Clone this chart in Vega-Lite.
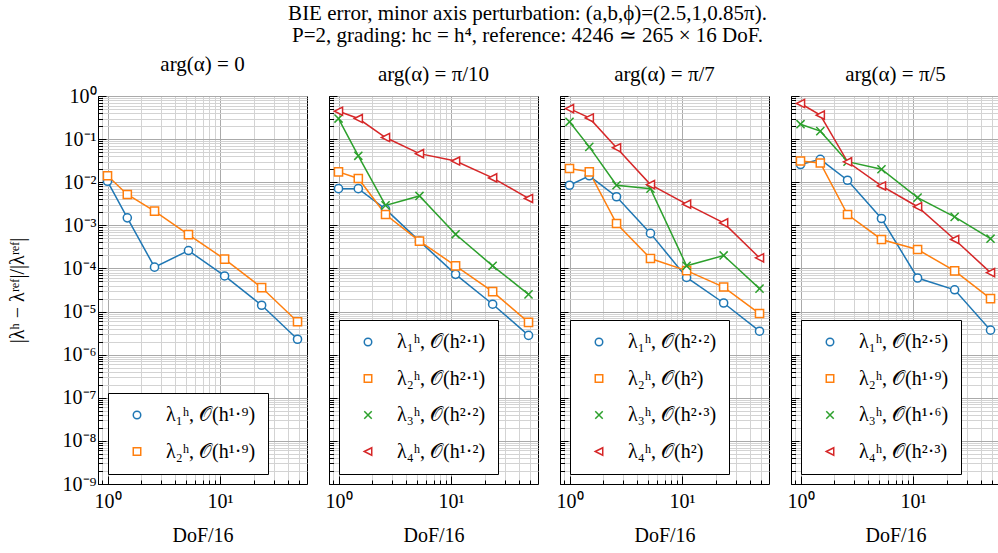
{
  "$schema": "https://vega.github.io/schema/vega-lite/v6.json",
  "background": "white",
  "padding": {"left": 6, "top": 2, "right": 0, "bottom": 0},
  "title": {
    "text": ["BIE error, minor axis perturbation: (a,b,ϕ)=(2.5,1,0.85π).", "P=2, grading: hc = h⁴, reference: 4246 ≃ 265 × 16 DoF."],
    "anchor": "middle", "fontSize": 21, "lineHeight": 22, "offset": 8, "dx": 24
  },
  "datasets": {
    "p1": [
      {"s": "λ₁ʰ, 𝒪(h¹·⁹)", "x": 1, "y": 0.0105}, {"s": "λ₁ʰ, 𝒪(h¹·⁹)", "x": 1.5, "y": 0.00149}, {"s": "λ₁ʰ, 𝒪(h¹·⁹)", "x": 2.62, "y": 0.000107}, {"s": "λ₁ʰ, 𝒪(h¹·⁹)", "x": 5.25, "y": 0.00026}, {"s": "λ₁ʰ, 𝒪(h¹·⁹)", "x": 11, "y": 6.7e-5}, {"s": "λ₁ʰ, 𝒪(h¹·⁹)", "x": 23.5, "y": 1.4e-5}, {"s": "λ₁ʰ, 𝒪(h¹·⁹)", "x": 49, "y": 2.28e-6},
      {"s": "λ₂ʰ, 𝒪(h¹·⁹)", "x": 1, "y": 0.0141}, {"s": "λ₂ʰ, 𝒪(h¹·⁹)", "x": 1.5, "y": 0.0052}, {"s": "λ₂ʰ, 𝒪(h¹·⁹)", "x": 2.62, "y": 0.00213}, {"s": "λ₂ʰ, 𝒪(h¹·⁹)", "x": 5.25, "y": 0.00061}, {"s": "λ₂ʰ, 𝒪(h¹·⁹)", "x": 11, "y": 0.000164}, {"s": "λ₂ʰ, 𝒪(h¹·⁹)", "x": 23.5, "y": 3.6e-5}, {"s": "λ₂ʰ, 𝒪(h¹·⁹)", "x": 49, "y": 5.8e-6}
    ],
    "p2": [
      {"s": "λ₁ʰ, 𝒪(h²·¹)", "x": 1, "y": 0.0071}, {"s": "λ₁ʰ, 𝒪(h²·¹)", "x": 1.5, "y": 0.0071}, {"s": "λ₁ʰ, 𝒪(h²·¹)", "x": 2.62, "y": 0.00237}, {"s": "λ₁ʰ, 𝒪(h²·¹)", "x": 5.25, "y": 0.00043}, {"s": "λ₁ʰ, 𝒪(h²·¹)", "x": 11, "y": 7.3e-5}, {"s": "λ₁ʰ, 𝒪(h²·¹)", "x": 23.5, "y": 1.48e-5}, {"s": "λ₁ʰ, 𝒪(h²·¹)", "x": 49, "y": 2.8e-6},
      {"s": "λ₂ʰ, 𝒪(h²·¹)", "x": 1, "y": 0.0174}, {"s": "λ₂ʰ, 𝒪(h²·¹)", "x": 1.5, "y": 0.0122}, {"s": "λ₂ʰ, 𝒪(h²·¹)", "x": 2.62, "y": 0.00178}, {"s": "λ₂ʰ, 𝒪(h²·¹)", "x": 5.25, "y": 0.00043}, {"s": "λ₂ʰ, 𝒪(h²·¹)", "x": 11, "y": 0.000115}, {"s": "λ₂ʰ, 𝒪(h²·¹)", "x": 23.5, "y": 2.9e-5}, {"s": "λ₂ʰ, 𝒪(h²·¹)", "x": 49, "y": 5.6e-6},
      {"s": "λ₃ʰ, 𝒪(h²·²)", "x": 1, "y": 0.30}, {"s": "λ₃ʰ, 𝒪(h²·²)", "x": 1.5, "y": 0.041}, {"s": "λ₃ʰ, 𝒪(h²·²)", "x": 2.62, "y": 0.0029}, {"s": "λ₃ʰ, 𝒪(h²·²)", "x": 5.25, "y": 0.0048}, {"s": "λ₃ʰ, 𝒪(h²·²)", "x": 11, "y": 0.00062}, {"s": "λ₃ʰ, 𝒪(h²·²)", "x": 23.5, "y": 0.000115}, {"s": "λ₃ʰ, 𝒪(h²·²)", "x": 49, "y": 2.5e-5},
      {"s": "λ₄ʰ, 𝒪(h¹·²)", "x": 1, "y": 0.444}, {"s": "λ₄ʰ, 𝒪(h¹·²)", "x": 1.5, "y": 0.30}, {"s": "λ₄ʰ, 𝒪(h¹·²)", "x": 2.62, "y": 0.109}, {"s": "λ₄ʰ, 𝒪(h¹·²)", "x": 5.25, "y": 0.046}, {"s": "λ₄ʰ, 𝒪(h¹·²)", "x": 11, "y": 0.031}, {"s": "λ₄ʰ, 𝒪(h¹·²)", "x": 23.5, "y": 0.0126}, {"s": "λ₄ʰ, 𝒪(h¹·²)", "x": 49, "y": 0.0042}
    ],
    "p3": [
      {"s": "λ₁ʰ, 𝒪(h²·²)", "x": 1, "y": 0.0085}, {"s": "λ₁ʰ, 𝒪(h²·²)", "x": 1.5, "y": 0.0141}, {"s": "λ₁ʰ, 𝒪(h²·²)", "x": 2.62, "y": 0.0046}, {"s": "λ₁ʰ, 𝒪(h²·²)", "x": 5.25, "y": 0.00065}, {"s": "λ₁ʰ, 𝒪(h²·²)", "x": 11, "y": 6.2e-5}, {"s": "λ₁ʰ, 𝒪(h²·²)", "x": 23.5, "y": 1.58e-5}, {"s": "λ₁ʰ, 𝒪(h²·²)", "x": 49, "y": 3.5e-6},
      {"s": "λ₂ʰ, 𝒪(h²)", "x": 1, "y": 0.0208}, {"s": "λ₂ʰ, 𝒪(h²)", "x": 1.5, "y": 0.0174}, {"s": "λ₂ʰ, 𝒪(h²)", "x": 2.62, "y": 0.0011}, {"s": "λ₂ʰ, 𝒪(h²)", "x": 5.25, "y": 0.00017}, {"s": "λ₂ʰ, 𝒪(h²)", "x": 11, "y": 8.9e-5}, {"s": "λ₂ʰ, 𝒪(h²)", "x": 23.5, "y": 3.7e-5}, {"s": "λ₂ʰ, 𝒪(h²)", "x": 49, "y": 9.0e-6},
      {"s": "λ₃ʰ, 𝒪(h²·³)", "x": 1, "y": 0.252}, {"s": "λ₃ʰ, 𝒪(h²·³)", "x": 1.5, "y": 0.066}, {"s": "λ₃ʰ, 𝒪(h²·³)", "x": 2.62, "y": 0.0085}, {"s": "λ₃ʰ, 𝒪(h²·³)", "x": 5.25, "y": 0.0071}, {"s": "λ₃ʰ, 𝒪(h²·³)", "x": 11, "y": 0.000115}, {"s": "λ₃ʰ, 𝒪(h²·³)", "x": 23.5, "y": 0.0002}, {"s": "λ₃ʰ, 𝒪(h²·³)", "x": 49, "y": 3.4e-5},
      {"s": "λ₄ʰ, 𝒪(h²)", "x": 1, "y": 0.51}, {"s": "λ₄ʰ, 𝒪(h²)", "x": 1.5, "y": 0.31}, {"s": "λ₄ʰ, 𝒪(h²)", "x": 2.62, "y": 0.063}, {"s": "λ₄ʰ, 𝒪(h²)", "x": 5.25, "y": 0.0088}, {"s": "λ₄ʰ, 𝒪(h²)", "x": 11, "y": 0.0031}, {"s": "λ₄ʰ, 𝒪(h²)", "x": 23.5, "y": 0.00114}, {"s": "λ₄ʰ, 𝒪(h²)", "x": 49, "y": 0.000176}
    ],
    "p4": [
      {"s": "λ₁ʰ, 𝒪(h²·⁵)", "x": 1, "y": 0.0258}, {"s": "λ₁ʰ, 𝒪(h²·⁵)", "x": 1.5, "y": 0.034}, {"s": "λ₁ʰ, 𝒪(h²·⁵)", "x": 2.62, "y": 0.0111}, {"s": "λ₁ʰ, 𝒪(h²·⁵)", "x": 5.25, "y": 0.00144}, {"s": "λ₁ʰ, 𝒪(h²·⁵)", "x": 11, "y": 6.0e-5}, {"s": "λ₁ʰ, 𝒪(h²·⁵)", "x": 23.5, "y": 3.2e-5}, {"s": "λ₁ʰ, 𝒪(h²·⁵)", "x": 49, "y": 3.7e-6},
      {"s": "λ₂ʰ, 𝒪(h¹·⁹)", "x": 1, "y": 0.031}, {"s": "λ₂ʰ, 𝒪(h¹·⁹)", "x": 1.5, "y": 0.028}, {"s": "λ₂ʰ, 𝒪(h¹·⁹)", "x": 2.62, "y": 0.00178}, {"s": "λ₂ʰ, 𝒪(h¹·⁹)", "x": 5.25, "y": 0.00047}, {"s": "λ₂ʰ, 𝒪(h¹·⁹)", "x": 11, "y": 0.000275}, {"s": "λ₂ʰ, 𝒪(h¹·⁹)", "x": 23.5, "y": 8.8e-5}, {"s": "λ₂ʰ, 𝒪(h¹·⁹)", "x": 49, "y": 2.0e-5},
      {"s": "λ₃ʰ, 𝒪(h¹·⁶)", "x": 1, "y": 0.222}, {"s": "λ₃ʰ, 𝒪(h¹·⁶)", "x": 1.5, "y": 0.153}, {"s": "λ₃ʰ, 𝒪(h¹·⁶)", "x": 2.62, "y": 0.030}, {"s": "λ₃ʰ, 𝒪(h¹·⁶)", "x": 5.25, "y": 0.020}, {"s": "λ₃ʰ, 𝒪(h¹·⁶)", "x": 11, "y": 0.0044}, {"s": "λ₃ʰ, 𝒪(h¹·⁶)", "x": 23.5, "y": 0.00157}, {"s": "λ₃ʰ, 𝒪(h¹·⁶)", "x": 49, "y": 0.00049},
      {"s": "λ₄ʰ, 𝒪(h²·³)", "x": 1, "y": 0.67}, {"s": "λ₄ʰ, 𝒪(h²·³)", "x": 1.5, "y": 0.36}, {"s": "λ₄ʰ, 𝒪(h²·³)", "x": 2.62, "y": 0.0297}, {"s": "λ₄ʰ, 𝒪(h²·³)", "x": 5.25, "y": 0.0082}, {"s": "λ₄ʰ, 𝒪(h²·³)", "x": 11, "y": 0.0027}, {"s": "λ₄ʰ, 𝒪(h²·³)", "x": 23.5, "y": 0.00047}, {"s": "λ₄ʰ, 𝒪(h²·³)", "x": 49, "y": 8.0e-5}
    ]
  },
  "spacing": 22,
  "bounds": "flush",
  "hconcat": [
    {
      "width": 209, "height": 388,
      "title": "arg(α) = 0",
      "data": {"name": "p1"},
      "encoding": {
        "x": {"field": "x", "type": "quantitative", "scale": {"type": "log", "domain": [0.823, 59.5], "nice": false},
          "axis": {"title": "DoF/16", "values": [0.9,1,2,3,4,5,6,7,8,9,10,20,30,40,50], "labelExpr": "datum.value == 1 ? '10⁰' : datum.value == 10 ? '10¹' : ''",
            "tickSize": {"condition": {"test": "datum.value == 1 || datum.value == 10", "value": -8}, "value": -4},
            "gridColor": {"condition": {"test": "datum.value == 1 || datum.value == 10", "value": "#aaaaaa"}, "value": "#d3d3d3"}}},
        "y": {"field": "y", "type": "quantitative", "scale": {"type": "log", "domain": [1e-9, 1], "nice": false},
          "axis": {"title": "|λʰ − λʳᵉᶠ|/|λʳᵉᶠ|",
            "values": [1e-9,2e-9,3e-9,4e-9,5e-9,6e-9,7e-9,8e-9,9e-9,1e-8,2e-8,3e-8,4e-8,5e-8,6e-8,7e-8,8e-8,9e-8,1e-7,2e-7,3e-7,4e-7,5e-7,6e-7,7e-7,8e-7,9e-7,1e-6,2e-6,3e-6,4e-6,5e-6,6e-6,7e-6,8e-6,9e-6,1e-5,2e-5,3e-5,4e-5,5e-5,6e-5,7e-5,8e-5,9e-5,1e-4,2e-4,3e-4,4e-4,5e-4,6e-4,7e-4,8e-4,9e-4,0.001,0.002,0.003,0.004,0.005,0.006,0.007,0.008,0.009,0.01,0.02,0.03,0.04,0.05,0.06,0.07,0.08,0.09,0.1,0.2,0.3,0.4,0.5,0.6,0.7,0.8,0.9,1],
            "labelExpr": "abs(log(datum.value)/LN10 - round(log(datum.value)/LN10)) < 0.01 ? ['10⁰','10⁻¹','10⁻²','10⁻³','10⁻⁴','10⁻⁵','10⁻⁶','10⁻⁷','10⁻⁸','10⁻⁹'][-round(log(datum.value)/LN10)] : ''",
            "tickSize": {"condition": {"test": "abs(log(datum.value)/LN10 - round(log(datum.value)/LN10)) < 0.01", "value": -8}, "value": -4.5},
            "gridColor": {"condition": {"test": "abs(log(datum.value)/LN10 - round(log(datum.value)/LN10)) < 0.01", "value": "#aaaaaa"}, "value": "#d3d3d3"}}},
        "stroke": {"field": "s", "type": "nominal",
          "scale": {"domain": ["λ₁ʰ, 𝒪(h¹·⁹)", "λ₂ʰ, 𝒪(h¹·⁹)"], "range": ["#1f77b4", "#ff7f0e"]},
          "legend": {"title": null, "orient": "bottom-left", "offset": 10}}
      },
      "layer": [
        {"mark": {"type": "line", "strokeWidth": 1.5}},
        {"mark": {"type": "point", "filled": true, "fill": "white", "opacity": 1, "strokeWidth": 1.5, "size": 66},
         "encoding": {"shape": {"field": "s", "type": "nominal", "legend": null,
           "scale": {"domain": ["λ₁ʰ, 𝒪(h¹·⁹)", "λ₂ʰ, 𝒪(h¹·⁹)"], "range": ["M1,0A1,1,0,1,1,-1,0A1,1,0,1,1,1,0Z", "M-1,-1H1V1H-1Z"]}}}}
      ]
    },
    {
      "width": 209, "height": 388,
      "title": "arg(α) = π/10",
      "data": {"name": "p2"},
      "encoding": {
        "x": {"field": "x", "type": "quantitative", "scale": {"type": "log", "domain": [0.823, 59.5], "nice": false},
          "axis": {"title": "DoF/16", "values": [0.9,1,2,3,4,5,6,7,8,9,10,20,30,40,50], "labelExpr": "datum.value == 1 ? '10⁰' : datum.value == 10 ? '10¹' : ''",
            "tickSize": {"condition": {"test": "datum.value == 1 || datum.value == 10", "value": -8}, "value": -4},
            "gridColor": {"condition": {"test": "datum.value == 1 || datum.value == 10", "value": "#aaaaaa"}, "value": "#d3d3d3"}}},
        "y": {"field": "y", "type": "quantitative", "scale": {"type": "log", "domain": [1e-9, 1], "nice": false},
          "axis": {"title": null, "labels": false,
            "values": [1e-9,2e-9,3e-9,4e-9,5e-9,6e-9,7e-9,8e-9,9e-9,1e-8,2e-8,3e-8,4e-8,5e-8,6e-8,7e-8,8e-8,9e-8,1e-7,2e-7,3e-7,4e-7,5e-7,6e-7,7e-7,8e-7,9e-7,1e-6,2e-6,3e-6,4e-6,5e-6,6e-6,7e-6,8e-6,9e-6,1e-5,2e-5,3e-5,4e-5,5e-5,6e-5,7e-5,8e-5,9e-5,1e-4,2e-4,3e-4,4e-4,5e-4,6e-4,7e-4,8e-4,9e-4,0.001,0.002,0.003,0.004,0.005,0.006,0.007,0.008,0.009,0.01,0.02,0.03,0.04,0.05,0.06,0.07,0.08,0.09,0.1,0.2,0.3,0.4,0.5,0.6,0.7,0.8,0.9,1],
            "tickSize": {"condition": {"test": "abs(log(datum.value)/LN10 - round(log(datum.value)/LN10)) < 0.01", "value": -8}, "value": -4.5},
            "gridColor": {"condition": {"test": "abs(log(datum.value)/LN10 - round(log(datum.value)/LN10)) < 0.01", "value": "#aaaaaa"}, "value": "#d3d3d3"}}},
        "stroke": {"field": "s", "type": "nominal",
          "scale": {"domain": ["λ₁ʰ, 𝒪(h²·¹)", "λ₂ʰ, 𝒪(h²·¹)", "λ₃ʰ, 𝒪(h²·²)", "λ₄ʰ, 𝒪(h¹·²)"], "range": ["#1f77b4", "#ff7f0e", "#2ca02c", "#d62728"]},
          "legend": {"title": null, "orient": "bottom-left", "offset": 10}}
      },
      "layer": [
        {"mark": {"type": "line", "strokeWidth": 1.5}},
        {"mark": {"type": "point", "filled": true, "fill": "white", "opacity": 1, "strokeWidth": 1.5, "size": 66},
         "encoding": {"shape": {"field": "s", "type": "nominal", "legend": null,
           "scale": {"domain": ["λ₁ʰ, 𝒪(h²·¹)", "λ₂ʰ, 𝒪(h²·¹)", "λ₃ʰ, 𝒪(h²·²)", "λ₄ʰ, 𝒪(h¹·²)"], "range": ["M1,0A1,1,0,1,1,-1,0A1,1,0,1,1,1,0Z", "M-1,-1H1V1H-1Z", "M-1,-1L1,1M-1,1L1,-1", "M-1,0L1,-1L1,1Z"]}}}}
      ]
    },
    {
      "width": 209, "height": 388,
      "title": "arg(α) = π/7",
      "data": {"name": "p3"},
      "encoding": {
        "x": {"field": "x", "type": "quantitative", "scale": {"type": "log", "domain": [0.823, 59.5], "nice": false},
          "axis": {"title": "DoF/16", "values": [0.9,1,2,3,4,5,6,7,8,9,10,20,30,40,50], "labelExpr": "datum.value == 1 ? '10⁰' : datum.value == 10 ? '10¹' : ''",
            "tickSize": {"condition": {"test": "datum.value == 1 || datum.value == 10", "value": -8}, "value": -4},
            "gridColor": {"condition": {"test": "datum.value == 1 || datum.value == 10", "value": "#aaaaaa"}, "value": "#d3d3d3"}}},
        "y": {"field": "y", "type": "quantitative", "scale": {"type": "log", "domain": [1e-9, 1], "nice": false},
          "axis": {"title": null, "labels": false,
            "values": [1e-9,2e-9,3e-9,4e-9,5e-9,6e-9,7e-9,8e-9,9e-9,1e-8,2e-8,3e-8,4e-8,5e-8,6e-8,7e-8,8e-8,9e-8,1e-7,2e-7,3e-7,4e-7,5e-7,6e-7,7e-7,8e-7,9e-7,1e-6,2e-6,3e-6,4e-6,5e-6,6e-6,7e-6,8e-6,9e-6,1e-5,2e-5,3e-5,4e-5,5e-5,6e-5,7e-5,8e-5,9e-5,1e-4,2e-4,3e-4,4e-4,5e-4,6e-4,7e-4,8e-4,9e-4,0.001,0.002,0.003,0.004,0.005,0.006,0.007,0.008,0.009,0.01,0.02,0.03,0.04,0.05,0.06,0.07,0.08,0.09,0.1,0.2,0.3,0.4,0.5,0.6,0.7,0.8,0.9,1],
            "tickSize": {"condition": {"test": "abs(log(datum.value)/LN10 - round(log(datum.value)/LN10)) < 0.01", "value": -8}, "value": -4.5},
            "gridColor": {"condition": {"test": "abs(log(datum.value)/LN10 - round(log(datum.value)/LN10)) < 0.01", "value": "#aaaaaa"}, "value": "#d3d3d3"}}},
        "stroke": {"field": "s", "type": "nominal",
          "scale": {"domain": ["λ₁ʰ, 𝒪(h²·²)", "λ₂ʰ, 𝒪(h²)", "λ₃ʰ, 𝒪(h²·³)", "λ₄ʰ, 𝒪(h²)"], "range": ["#1f77b4", "#ff7f0e", "#2ca02c", "#d62728"]},
          "legend": {"title": null, "orient": "bottom-left", "offset": 10}}
      },
      "layer": [
        {"mark": {"type": "line", "strokeWidth": 1.5}},
        {"mark": {"type": "point", "filled": true, "fill": "white", "opacity": 1, "strokeWidth": 1.5, "size": 66},
         "encoding": {"shape": {"field": "s", "type": "nominal", "legend": null,
           "scale": {"domain": ["λ₁ʰ, 𝒪(h²·²)", "λ₂ʰ, 𝒪(h²)", "λ₃ʰ, 𝒪(h²·³)", "λ₄ʰ, 𝒪(h²)"], "range": ["M1,0A1,1,0,1,1,-1,0A1,1,0,1,1,1,0Z", "M-1,-1H1V1H-1Z", "M-1,-1L1,1M-1,1L1,-1", "M-1,0L1,-1L1,1Z"]}}}}
      ]
    },
    {
      "width": 209, "height": 388,
      "title": "arg(α) = π/5",
      "data": {"name": "p4"},
      "encoding": {
        "x": {"field": "x", "type": "quantitative", "scale": {"type": "log", "domain": [0.823, 59.5], "nice": false},
          "axis": {"title": "DoF/16", "values": [0.9,1,2,3,4,5,6,7,8,9,10,20,30,40,50], "labelExpr": "datum.value == 1 ? '10⁰' : datum.value == 10 ? '10¹' : ''",
            "tickSize": {"condition": {"test": "datum.value == 1 || datum.value == 10", "value": -8}, "value": -4},
            "gridColor": {"condition": {"test": "datum.value == 1 || datum.value == 10", "value": "#aaaaaa"}, "value": "#d3d3d3"}}},
        "y": {"field": "y", "type": "quantitative", "scale": {"type": "log", "domain": [1e-9, 1], "nice": false},
          "axis": {"title": null, "labels": false,
            "values": [1e-9,2e-9,3e-9,4e-9,5e-9,6e-9,7e-9,8e-9,9e-9,1e-8,2e-8,3e-8,4e-8,5e-8,6e-8,7e-8,8e-8,9e-8,1e-7,2e-7,3e-7,4e-7,5e-7,6e-7,7e-7,8e-7,9e-7,1e-6,2e-6,3e-6,4e-6,5e-6,6e-6,7e-6,8e-6,9e-6,1e-5,2e-5,3e-5,4e-5,5e-5,6e-5,7e-5,8e-5,9e-5,1e-4,2e-4,3e-4,4e-4,5e-4,6e-4,7e-4,8e-4,9e-4,0.001,0.002,0.003,0.004,0.005,0.006,0.007,0.008,0.009,0.01,0.02,0.03,0.04,0.05,0.06,0.07,0.08,0.09,0.1,0.2,0.3,0.4,0.5,0.6,0.7,0.8,0.9,1],
            "tickSize": {"condition": {"test": "abs(log(datum.value)/LN10 - round(log(datum.value)/LN10)) < 0.01", "value": -8}, "value": -4.5},
            "gridColor": {"condition": {"test": "abs(log(datum.value)/LN10 - round(log(datum.value)/LN10)) < 0.01", "value": "#aaaaaa"}, "value": "#d3d3d3"}}},
        "stroke": {"field": "s", "type": "nominal",
          "scale": {"domain": ["λ₁ʰ, 𝒪(h²·⁵)", "λ₂ʰ, 𝒪(h¹·⁹)", "λ₃ʰ, 𝒪(h¹·⁶)", "λ₄ʰ, 𝒪(h²·³)"], "range": ["#1f77b4", "#ff7f0e", "#2ca02c", "#d62728"]},
          "legend": {"title": null, "orient": "bottom-left", "offset": 10}}
      },
      "layer": [
        {"mark": {"type": "line", "strokeWidth": 1.5}},
        {"mark": {"type": "point", "filled": true, "fill": "white", "opacity": 1, "strokeWidth": 1.5, "size": 66},
         "encoding": {"shape": {"field": "s", "type": "nominal", "legend": null,
           "scale": {"domain": ["λ₁ʰ, 𝒪(h²·⁵)", "λ₂ʰ, 𝒪(h¹·⁹)", "λ₃ʰ, 𝒪(h¹·⁶)", "λ₄ʰ, 𝒪(h²·³)"], "range": ["M1,0A1,1,0,1,1,-1,0A1,1,0,1,1,1,0Z", "M-1,-1H1V1H-1Z", "M-1,-1L1,1M-1,1L1,-1", "M-1,0L1,-1L1,1Z"]}}}}
      ]
    }
  ],
  "resolve": {"scale": {"stroke": "independent", "shape": "independent"}, "legend": {"stroke": "independent"}},
  "config": {
    "font": "Liberation Serif",
    "view": {"stroke": "black", "strokeWidth": 1},
    "title": {"font": "Liberation Serif", "fontSize": 21, "fontWeight": "normal", "color": "black", "offset": 11},
    "axis": {"labelFont": "Liberation Serif", "titleFont": "Liberation Serif", "labelFontSize": 20, "titleFontSize": 20, "titleFontWeight": "normal",
      "labelColor": "black", "titleColor": "black", "tickColor": "black", "domainColor": "black", "tickWidth": 1, "gridWidth": 1,
      "labelOverlap": false, "labelFlush": false, "labelBound": false},
    "axisX": {"labelPadding": 15, "titlePadding": 10},
    "axisY": {"labelPadding": 10, "titlePadding": 35},
    "legend": {"labelFont": "Liberation Serif", "labelFontSize": 20, "labelColor": "black", "strokeColor": "black", "fillColor": "white",
      "padding": 12, "cornerRadius": 0, "rowPadding": 16.5, "symbolSize": 56, "symbolOffset": 7, "labelOffset": 19, "symbolStrokeWidth": 1.5, "labelLimit": 250}
  }
}
